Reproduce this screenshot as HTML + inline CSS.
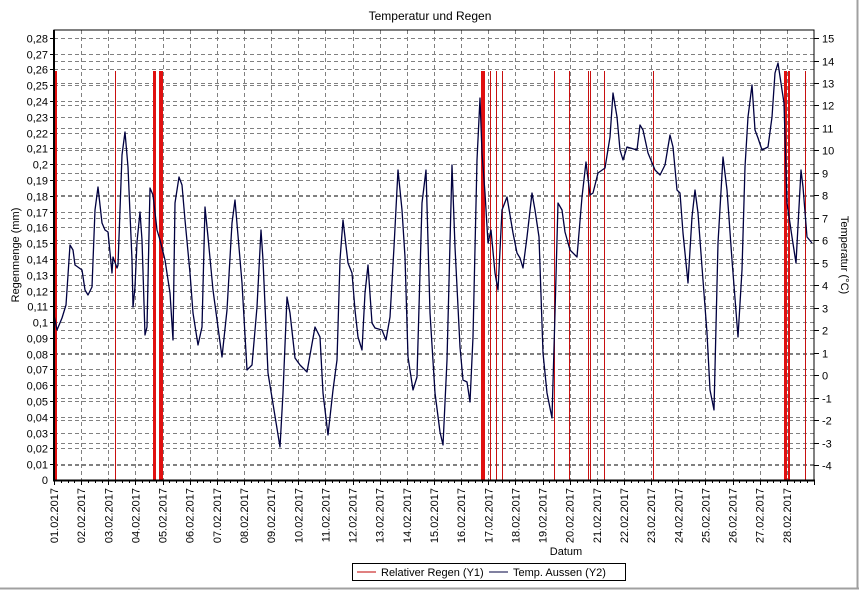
<!DOCTYPE html>
<html><head><meta charset="utf-8"><style>
html,body{margin:0;padding:0;background:#fff}
svg{display:block;font-family:"Liberation Sans",Arial,sans-serif}
</style></head><body>
<svg width="859" height="590" viewBox="0 0 859 590" xmlns="http://www.w3.org/2000/svg">
<rect x="0" y="0" width="859" height="590" fill="#fff"/>
<line x1="857.5" y1="0" x2="857.5" y2="589" stroke="#a0a0a0" stroke-width="2"/>
<line x1="0" y1="588.5" x2="859" y2="588.5" stroke="#a0a0a0" stroke-width="2"/>
<text x="430" y="20" font-size="12" text-anchor="middle">Temperatur und Regen</text>
<g id="grid" stroke="#808080" stroke-width="1" stroke-dasharray="4,3" fill="none"></g>
<g id="red" shape-rendering="crispEdges"></g>
<polyline id="temp" fill="none" stroke="#000040" stroke-width="1.3" stroke-linejoin="round"/>
<rect x="54" y="30" width="760" height="450" fill="none" stroke="#000" stroke-width="1"/>
<line x1="54" y1="30" x2="54" y2="481" stroke="#000" stroke-width="2"/>
<line x1="53" y1="480.5" x2="815" y2="480.5" stroke="#000" stroke-width="2"/>
<g id="ticks" stroke="#000" stroke-width="1"></g>
<g id="labels" font-size="11"></g>
<text transform="translate(19,255) rotate(-90)" font-size="11" text-anchor="middle">Regenmenge (mm)</text>
<text transform="translate(841,255) rotate(90)" font-size="11" text-anchor="middle">Temperatur (°C)</text>
<text x="566" y="555" font-size="11" text-anchor="middle">Datum</text>
<rect x="352.5" y="563.5" width="273" height="17" fill="#fff" stroke="#000"/>
<line x1="357" y1="572" x2="376" y2="572" stroke="#c00000"/>
<text x="381" y="576" font-size="11">Relativer Regen (Y1)</text>
<line x1="489" y1="572" x2="508" y2="572" stroke="#000040"/>
<text x="513" y="576" font-size="11">Temp. Aussen (Y2)</text>
</svg>
<script>
var NS="http://www.w3.org/2000/svg";
function el(p,t,a,txt){var e=document.createElementNS(NS,t);for(var k in a)e.setAttribute(k,a[k]);if(txt!==undefined)e.textContent=txt;document.getElementById(p).appendChild(e);return e;}
var L=54,R=814,T=30,B=480,dx=760/28;
function yl(v){return 480-v*1579;}
function yt(t){return 465-(t+4)*22.47;}
for(var d=1;d<28;d++){var x=Math.round(L+d*dx)+.5;el("grid","line",{x1:x,y1:T,x2:x,y2:B});}
for(var i=1;i<=28;i++){var y=Math.round(yl(i/100))+.5;el("grid","line",{x1:L,y1:y,x2:R,y2:y});
 el("ticks","line",{x1:L-4,y1:y,x2:L,y2:y});
 el("labels","text",{x:L-6,y:y+4,"text-anchor":"end"},(i/100).toFixed(2).replace(".",",").replace(/,(\d)0$/,",$1"));}
el("labels","text",{x:L-6,y:484,"text-anchor":"end"},"0");
for(var t=-4;t<=15;t++){var y=Math.round(yt(t))+.5;el("grid","line",{x1:L,y1:y,x2:R,y2:y});
 el("ticks","line",{x1:R,y1:y,x2:R+5,y2:y});
 el("labels","text",{x:R+8,y:y+4},String(t));}
for(var q=0;q<=112;q++){var x=Math.round(L+q*dx/4)+.5;el("ticks","line",{x1:x,y1:B,x2:x,y2:B+(q%4==0?5:3)});}
for(var d=0;d<28;d++){var x=L+d*dx+4;var dd=(d+1<10?"0":"")+(d+1);
 el("labels","text",{transform:"translate("+x+",488) rotate(-90)","text-anchor":"end"},dd+".02.2017");}
var reds=[[55,2],[115,1],[153,3],[159,4],[481,4],[490,1],[496,1],[502,1],[554,1],[569,1],[588,1],[590,1],[604,1],[653,1],[784,3],[788,2],[805,1]];
reds.forEach(function(r){el("red","rect",{x:r[0],y:71,width:r[1],height:409,fill:r[1]>1?"#e01010":"#c81010"});});
var p=[[54,315],[57,330],[62,318],[66,305],[70,245],[73,250],[75,265],[82,270],[85,290],[88,295],[92,287],[95,210],[98,187],[102,223],[105,230],[108,232],[112,273],[113,257],[117,268],[118,265],[122,155],[125,132],[128,167],[132,260],[133,307],[135,287],[137,242],[140,212],[142,240],[145,335],[147,327],[150,188],[153,195],[157,230],[160,240],[165,260],[170,293],[173,340],[175,203],[179,177],[182,185],[185,220],[190,273],[193,313],[198,345],[202,327],[205,207],[208,237],[213,290],[222,357],[227,310],[232,223],[235,200],[242,283],[247,370],[252,365],[257,307],[261,230],[263,260],[268,373],[280,447],[283,393],[287,297],[290,313],[295,358],[300,365],[307,372],[315,327],[320,337],[323,393],[328,435],[333,390],[337,360],[340,260],[343,220],[348,263],[352,273],[355,310],[358,337],[362,350],[365,293],[368,265],[372,323],[375,328],[382,330],[386,340],[390,317],[394,247],[398,170],[402,210],[405,257],[408,357],[413,390],[417,377],[422,203],[426,170],[430,313],[435,393],[440,432],[443,445],[447,360],[452,165],[455,247],[460,347],[463,380],[467,382],[470,402],[473,337],[477,160],[480,98],[482,153],[485,193],[488,243],[491,230],[495,273],[498,290],[502,210],[507,197],[513,233],[517,253],[520,258],[523,268],[527,237],[532,193],[535,210],[539,237],[543,353],[547,393],[552,418],[555,313],[558,203],[562,210],[565,232],[570,250],[577,257],[582,197],[586,162],[590,195],[593,193],[598,173],[605,168],[610,137],[613,93],[617,117],[620,150],[623,160],[627,147],[637,150],[640,125],[643,130],[648,153],[655,170],[660,175],[665,165],[670,135],[673,147],[677,190],[680,193],[683,233],[688,283],[692,217],[695,190],[698,213],[702,267],[707,333],[710,390],[714,410],[718,243],[723,157],[727,190],[732,260],[738,337],[742,270],[745,167],[748,117],[752,85],[755,130],[758,138],[762,150],[768,147],[772,117],[775,73],[778,63],[782,90],[784,103],[787,203],[792,237],[796,263],[801,170],[803,187],[807,237],[812,243]];
document.getElementById("temp").setAttribute("points",p.map(function(a){return a.join(",")}).join(" "));
</script>
</body></html>
